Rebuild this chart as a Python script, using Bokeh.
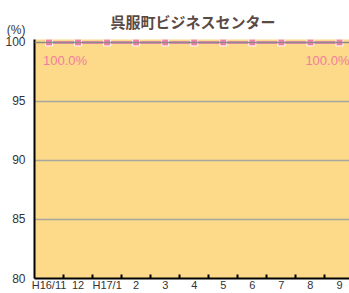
from bokeh.plotting import figure
from bokeh.models import Range1d, FixedTicker, Label, Span, ColumnDataSource
from bokeh.embed import file_html
from bokeh.resources import INLINE

categories = ["H16/11", "12", "H17/1", "2", "3", "4", "5", "6", "7", "8", "9"]
rates = [100.0, 100.0, 100.0, 100.0, 100.0, 100.0, 100.0, 100.0, 100.0, 100.0, 100.0]
y_ticks = [80, 85, 90, 95, 100]
title_text = "呉服町ビジネスセンター"
unit_text = "(%)"

xs = list(range(len(categories)))
src = ColumnDataSource(dict(x=xs, y=rates))

p = figure(width=349, height=293, output_backend="svg", toolbar_location=None,
           x_range=Range1d(-0.5, 10.345), y_range=Range1d(80, 100.25),
           min_border_left=34, min_border_right=0, min_border_top=39, min_border_bottom=15)
p.background_fill_color = "#FDD98A"
p.outline_line_color = None
p.border_fill_color = "white"

p.title.text = title_text
p.title.align = "left"
p.title.offset = 76
p.title.standoff = 14
p.title.vertical_align = "middle"
p.title.text_font = "Noto Sans CJK JP"
p.title.text_font_size = "15px"
p.title.text_font_style = "bold"
p.title.text_color = "#5B4A43"

xa = p.xaxis[0]
xa.ticker = FixedTicker(ticks=xs, minor_ticks=[i + 0.5 for i in range(len(xs) - 1)])
xa.major_label_overrides = {i: c for i, c in enumerate(categories)}
xa.major_tick_line_color = None
xa.major_tick_in = 0
xa.major_tick_out = 0
xa.minor_tick_in = 4
xa.minor_tick_out = 0
xa.minor_tick_line_color = "black"
xa.minor_tick_line_width = 2
xa.axis_line_color = "black"
xa.axis_line_width = 2
xa.major_label_text_font = "Liberation Sans"
xa.major_label_text_font_size = "11px"
xa.major_label_text_color = "#333333"
xa.major_label_standoff = 0

ya = p.yaxis[0]
ya.ticker = FixedTicker(ticks=y_ticks)
ya.major_label_overrides = {y_ticks[-1]: f"{unit_text}\n{y_ticks[-1]}\n "}
ya.major_tick_line_color = None
ya.minor_tick_line_color = None
ya.axis_line_color = "black"
ya.axis_line_width = 2
ya.major_label_text_font = "Liberation Sans"
ya.major_label_text_font_size = "12px"
ya.major_label_text_line_height = 0.92
ya.major_label_text_color = "#333333"
ya.major_label_standoff = 3

p.xgrid.grid_line_color = None
p.ygrid.ticker = FixedTicker(ticks=[85, 90, 95])
p.ygrid.grid_line_color = "#A8A79E"
p.ygrid.grid_line_width = 1.5

p.add_layout(Span(location=100, dimension="width", line_color="#8A8A8A", line_width=1.5))

p.line("x", "y", source=src, line_color="#F28AAE", line_width=3)
p.scatter("x", "y", source=src, marker="square", size=7, fill_color="#F37FA5",
          line_color="white", line_width=1)

p.add_layout(Label(x=xs[0], y=rates[0], text=f"{rates[0]:.1f}%", x_offset=-6, y_offset=-18,
                   text_align="left", text_baseline="middle", text_font="Liberation Sans",
                   text_font_size="13px", text_color="#F0809F"))
p.add_layout(Label(x=xs[-1], y=rates[-1], text=f"{rates[-1]:.1f}%", x_offset=10, y_offset=-18,
                   text_align="right", text_baseline="middle", text_font="Liberation Sans",
                   text_font_size="13px", text_color="#F0809F"))

open("out.html", "w").write(file_html(p, INLINE))
